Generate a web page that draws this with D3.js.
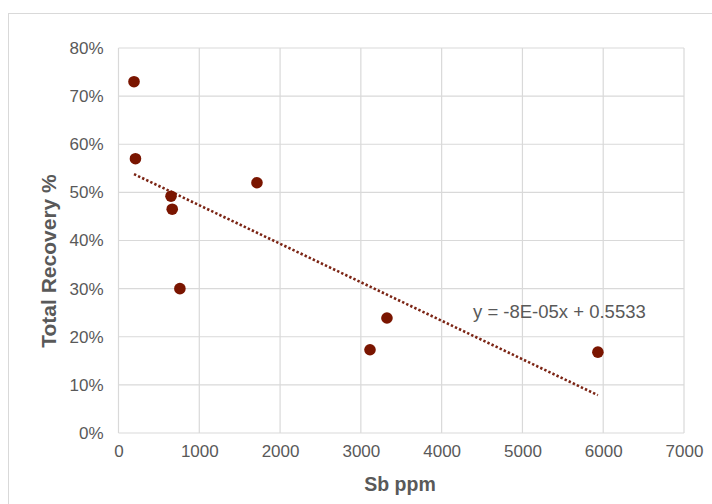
<!DOCTYPE html>
<html><head><meta charset="utf-8">
<script src="https://cdn.jsdelivr.net/npm/d3@7"></script>
<style>body{margin:0;background:#fff;} svg{display:block;font-family:"Liberation Sans",Arial,sans-serif;}</style>
</head><body><svg id="c" width="712" height="504"></svg>
<script>
const sbPpm = [192, 210, 650, 665, 760, 1714, 3113, 3323, 5934];
const recovery = [0.73, 0.57, 0.492, 0.465, 0.30, 0.52, 0.173, 0.239, 0.168];
const xTicks = [0, 1000, 2000, 3000, 4000, 5000, 6000, 7000];
const yTicks = [0, 0.1, 0.2, 0.3, 0.4, 0.5, 0.6, 0.7, 0.8];
const trendSlope = -0.00008;
const trendIntercept = 0.5533;
const trendLabel = "y = -8E-05x + 0.5533";

const svg = d3.select("#c");
const m = {l:118.5, r:684, t:48, b:433};
const x = d3.scaleLinear().domain([0,7000]).range([m.l, m.r]);
const y = d3.scaleLinear().domain([0,0.8]).range([m.b, m.t]);
const grey = "#595959", grid = "#d9d9d9";

svg.append("rect").attr("x",8.5).attr("y",13.5).attr("width",720).attr("height",510)
  .attr("fill","none").attr("stroke","#d9d9d9");

const g = svg.append("g");
g.selectAll(".gx").data(xTicks).join("line")
  .attr("x1",d=>x(d)).attr("x2",d=>x(d)).attr("y1",m.t).attr("y2",m.b)
  .attr("stroke",grid).attr("stroke-width",1.2);
g.selectAll(".gy").data(yTicks).join("line")
  .attr("y1",d=>y(d)).attr("y2",d=>y(d)).attr("x1",m.l).attr("x2",m.r)
  .attr("stroke",grid).attr("stroke-width",1.2);

const xa = svg.append("g").attr("transform",`translate(0,${m.b})`)
  .call(d3.axisBottom(x).tickValues(xTicks).tickSize(0).tickPadding(12).tickFormat(d3.format("d")));
const ya = svg.append("g").attr("transform",`translate(${m.l},0)`)
  .call(d3.axisLeft(y).tickValues(yTicks).tickSize(0).tickPadding(15).tickFormat(d3.format(".0%")));
[xa,ya].forEach(a=>{a.select(".domain").remove();
  a.selectAll("text").attr("fill",grey).attr("font-size",17).attr("font-family","Liberation Sans, Arial, sans-serif");});

// trendline
const xmin = d3.min(sbPpm), xmax = d3.max(sbPpm);
svg.append("line")
  .attr("x1",x(xmin)).attr("y1",y(trendSlope*xmin+trendIntercept))
  .attr("x2",x(xmax)).attr("y2",y(trendSlope*xmax+trendIntercept))
  .attr("stroke","#7b2414").attr("stroke-width",2.6).attr("stroke-dasharray","2.4 2.1");

svg.append("text").attr("x",473).attr("y",318).attr("fill",grey).attr("font-size",18.5)
  .text(trendLabel);

svg.selectAll(".pt").data(sbPpm).join("circle")
  .attr("cx",d=>x(d)).attr("cy",(d,i)=>y(recovery[i])).attr("r",5.8)
  .attr("fill","#7a1500");

svg.append("text").attr("x",400).attr("y",491).attr("text-anchor","middle")
  .attr("fill",grey).attr("font-size",19.5).attr("font-weight","bold").text("Sb ppm");
svg.append("text").attr("transform","translate(56,261) rotate(-90)").attr("text-anchor","middle")
  .attr("fill",grey).attr("font-size",21).attr("font-weight","bold").text("Total Recovery %");
</script></body></html>
